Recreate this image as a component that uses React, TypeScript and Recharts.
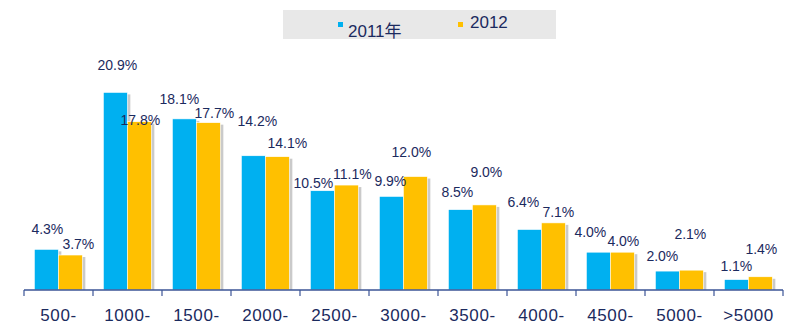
import { BarChart, Bar, XAxis, YAxis, LabelList } from 'recharts';

const categories = ['500-', '1000-', '1500-', '2000-', '2500-', '3000-', '3500-', '4000-', '4500-', '5000-', '>5000'];
const share2011 = [4.3, 20.9, 18.1, 14.2, 10.5, 9.9, 8.5, 6.4, 4.0, 2.0, 1.1];
const share2012 = [3.7, 17.8, 17.7, 14.1, 11.1, 12.0, 9.0, 7.1, 4.0, 2.1, 1.4];

// label nudges as in the original slide: [dx from bar centre, distance above bar top]
const nudge2011 = [[1, 20], [2, 27], [-5, 20], [4, 35], [-9, 8], [-1, 15], [-3, 18], [-6, 27], [-8, 20], [-5, 15], [0, 14]];
const nudge2012 = [[8, 11], [1, 2], [6, 10], [10, 14], [6, 11], [-4, 25], [2, 33], [5, 11], [1, 11], [-1, 36], [1, 28]];

const BLUE = '#00B0F0';
const YELLOW = '#FFC000';
const NAVY = '#1B2A5E';
const FONT = "'Liberation Sans', Arial, 'Noto Sans CJK SC', sans-serif";

const data = categories.map((name, i) => ({
    name,
    y2011: share2011[i],
    y2012: share2012[i],
}));

function ShadowBar(props: any) {
    const { x, y, width, height, fill } = props;
    if (!height || height <= 0) return null;
    return (
        <g>
            <rect x={x + 3} y={y + 2} width={width} height={Math.max(height - 2, 0)} fill="#8a8a8a" opacity={0.45} />
            <rect x={x} y={y} width={width} height={height} fill={fill} stroke="#ffffff" strokeWidth={0.6} />
        </g>
    );
}

function makeLabel(nudges: number[][]) {
    return (props: any) => {
        const { x, y, width, value, index } = props;
        const [dx, up] = nudges[index] || [0, 12];
        return (
            <text
                x={x + width / 2 + dx}
                y={y - up}
                textAnchor="middle"
                dominantBaseline="central"
                fontSize={14}
                fontFamily={FONT}
                fill={NAVY}
            >
                {Number(value).toFixed(1)}%
            </text>
        );
    };
}

function CategoryTick(props: any) {
    const { x, y, payload, index, visibleTicksCount } = props;
    const half = payload && payload.offset ? payload.offset : 34.5;
    const last = index === (visibleTicksCount ?? categories.length) - 1;
    return (
        <g>
            <line x1={x - half} x2={x - half} y1={y} y2={y + 6} stroke="#3B5496" strokeWidth={1.2} />
            {last && <line x1={x + half} x2={x + half} y1={y} y2={y + 6} stroke="#3B5496" strokeWidth={1.2} />}
            <text
                x={x}
                y={y + 31}
                textAnchor="middle"
                fontSize={17}
                letterSpacing={0.6}
                fontFamily={FONT}
                fill={NAVY}
            >
                {payload.value}
            </text>
        </g>
    );
}

export default function App() {
    return (
        <div style={{ position: 'absolute', left: 0, top: 0, width: 799, height: 330, background: '#fff' }}>
            <div
                style={{
                    position: 'absolute',
                    left: 283,
                    top: 10,
                    width: 273,
                    height: 29,
                    background: '#E8E8E8',
                    fontFamily: FONT,
                    fontSize: 17,
                    color: NAVY,
                }}
            >
                <span style={{ position: 'absolute', left: 55, top: 12, width: 5, height: 5, background: BLUE }} />
                <span style={{ position: 'absolute', left: 65, top: 12, lineHeight: '20px' }}>2011年</span>
                <span style={{ position: 'absolute', left: 175, top: 12, width: 5, height: 5, background: YELLOW }} />
                <span style={{ position: 'absolute', left: 187, top: 3, lineHeight: '20px' }}>2012</span>
            </div>
            <BarChart
                width={799}
                height={330}
                data={data}
                margin={{ top: 82, right: 16, bottom: 10, left: 24 }}
                barCategoryGap="15%"
                barGap={0}
            >
                <XAxis
                    dataKey="name"
                    height={30}
                    tickLine={false}
                    tickSize={0}
                    tickMargin={0}
                    axisLine={{ stroke: '#3B5496', strokeWidth: 1.5 }}
                    tick={<CategoryTick />}
                    interval={0}
                />
                <YAxis hide domain={[0, 22]} />
                <Bar dataKey="y2011" fill={BLUE} shape={<ShadowBar />} isAnimationActive={false}>
                    <LabelList dataKey="y2011" content={makeLabel(nudge2011)} />
                </Bar>
                <Bar dataKey="y2012" fill={YELLOW} shape={<ShadowBar />} isAnimationActive={false}>
                    <LabelList dataKey="y2012" content={makeLabel(nudge2012)} />
                </Bar>
            </BarChart>
        </div>
    );
}
